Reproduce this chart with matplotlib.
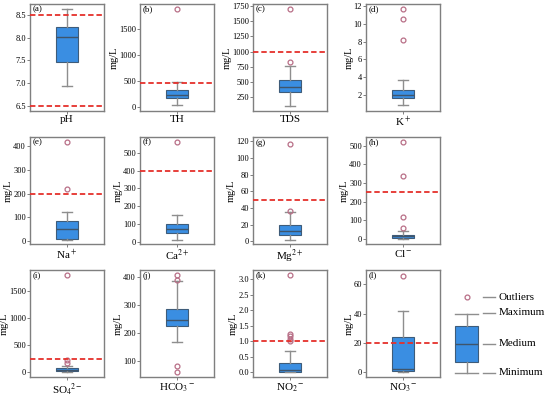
import matplotlib
matplotlib.use("Agg")
import matplotlib.pyplot as plt
import numpy as np

plt.rcParams['font.family'] = ['Liberation Serif', 'DejaVu Serif']
plt.rcParams['mathtext.fontset'] = 'stix'

# ---------------- data ----------------
names = ['pH', 'TH', 'TDS', r'K$^+$', r'Na$^+$', r'Ca$^{2+}$', r'Mg$^{2+}$', r'Cl$^-$',
         r'SO$_4$$^{2-}$', r'HCO$_3$$^-$', r'NO$_2$$^-$', r'NO$_3$$^-$']
panel_tags = ['(a)', '(b)', '(c)', '(d)', '(e)', '(f)', '(g)', '(h)', '(i)', '(j)', '(k)', '(l)']
whis_lo = [6.95, 33, 114, 0.9, 3, 8, 2, 0, 0, 168, 0.0, 0]
q1 = [7.47, 160, 341, 1.63, 10, 50, 8, 5, 25, 223, 0.02, 1]
median = [8.01, 230, 428, 2.03, 49, 71, 13, 14, 49, 247, 0.09, 2.3]
q3 = [8.24, 320, 541, 2.6, 84, 100, 19.3, 22, 73, 287, 0.30, 24]
whis_hi = [8.63, 470, 761, 3.7, 123, 150, 35, 45, 122, 386, 0.70, 42]
outliers = [[], [1890], [1700, 837], [11.6, 10.5, 8.2], [418, 218], [563], [117, 37],
            [521, 340, 117, 61], [1788, 220, 170], [407, 390, 80, 60],
            [3.13, 1.24, 1.16, 1.08, 1.02], [66]]
thresholds = [[6.5, 8.5], [450], [1000], [], [200], [400], [50], [250], [250], [], [1.0], [20]]
ylims = [(6.39, 8.74), (-83, 1990), (28, 1778), (0.22, 12.2), (-13, 440), (-13, 590),
         (-3, 125), (-27, 547), (-86, 1885), (42, 425), (-0.15, 3.3), (-3.2, 69.8)]
yticks = [np.arange(6.5, 8.51, 0.5), [0, 500, 1000, 1500], np.arange(250, 1751, 250),
          np.arange(2, 12.1, 2), np.arange(0, 401, 100), np.arange(0, 501, 100),
          np.arange(0, 121, 20), np.arange(0, 501, 100), [0, 500, 1000, 1500],
          np.arange(100, 401, 100), np.arange(0, 3.01, 0.5), np.arange(0, 61, 20)]
ylabel = ['', 'mg/L', 'mg/L', 'mg/L', 'mg/L', 'mg/L', 'mg/L', 'mg/L', 'mg/L', 'mg/L', 'mg/L', 'mg/L']

legend_stats = dict(whislo=0.078, q1=0.2, med=0.4, q3=0.6, whishi=0.733, fliers=[0.922])
legend_labels = ['Outliers', 'Maximum', 'Medium', 'Minimum']
legend_label_y = [0.922, 0.745, 0.4, 0.078]

# ---------------- style ----------------
W, H = 550, 398
box_fc = '#3A8EE2'
box_ec = '#3E5C7A'
med_c = '#3F556B'
wh_c = '#8E8E8E'
fl_c = '#B86E86'
red_c = '#E5302B'
spine_c = '#7F7F7F'

fig = plt.figure(figsize=(W / 100, H / 100), dpi=100)

col_left = [30, 140, 253, 366]
row_top = [4, 137, 270]
aw, ah = 74, 107

boxprops = dict(facecolor=box_fc, edgecolor=box_ec, linewidth=0.8)
medprops = dict(color=med_c, linewidth=1.0)
whprops = dict(color=wh_c, linewidth=1.0)
flprops = dict(marker='o', markersize=3.5, markerfacecolor='none', markeredgecolor=fl_c,
               markeredgewidth=0.9, linestyle='none')

for i in range(12):
    r, c = divmod(i, 4)
    l = col_left[c]
    t = row_top[r]
    ax = fig.add_axes([l / W, 1 - (t + ah) / H, aw / W, ah / H])
    stats = [dict(whislo=whis_lo[i], q1=q1[i], med=median[i], q3=q3[i],
                  whishi=whis_hi[i], fliers=outliers[i])]
    ax.bxp(stats, positions=[1], widths=0.3, patch_artist=True, capwidths=0.14,
           boxprops=boxprops, medianprops=medprops, whiskerprops=whprops,
           capprops=whprops, flierprops=flprops)
    for th in thresholds[i]:
        ax.axhline(th, color=red_c, linestyle=(0, (3, 1.6)), linewidth=1.3, zorder=3)
    ax.set_xlim(0.5, 1.5)
    ax.set_ylim(*ylims[i])
    ax.set_yticks(yticks[i])
    ax.set_xticks([1])
    ax.set_xticklabels([names[i]], fontsize=8)
    ax.tick_params(axis='y', labelsize=6, length=2, width=0.7, color=spine_c, pad=1.0)
    ax.tick_params(axis='x', length=2, width=0.7, color=spine_c, pad=1.0)
    for s in ax.spines.values():
        s.set_color(spine_c)
        s.set_linewidth(1.0)
    if ylabel[i]:
        ax.set_ylabel(ylabel[i], fontsize=7.5, labelpad=0)
    ax.text(0.04, 0.985, panel_tags[i], transform=ax.transAxes, fontsize=6.5,
            va='top', ha='left')

# ---------------- legend panel ----------------
lx0, lx1, ly0, ly1 = 445, 550, 290, 380
lax = fig.add_axes([lx0 / W, 1 - ly1 / H, (lx1 - lx0) / W, (ly1 - ly0) / H])
lax.set_xlim(0, 1)
lax.set_ylim(0, 1)
lax.axis('off')
lax.bxp([legend_stats], positions=[0.205], widths=0.22, patch_artist=True, capwidths=0.22,
        boxprops=boxprops, medianprops=medprops, whiskerprops=whprops,
        capprops=whprops, flierprops=flprops, manage_ticks=False)
for lab, yv in zip(legend_labels, legend_label_y):
    lax.plot([0.362, 0.476], [yv, yv], color=wh_c, linewidth=1.0, clip_on=False)
    lax.text(0.514, yv, lab, fontsize=8, va='center', ha='left')

fig.savefig('out.png', dpi=100)
